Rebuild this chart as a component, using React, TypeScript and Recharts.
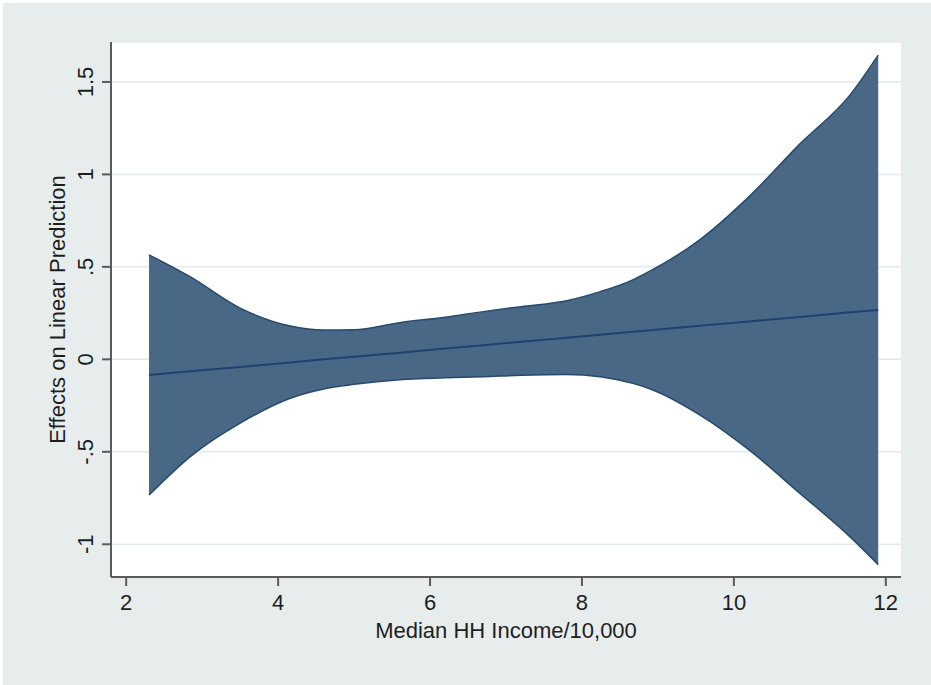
import { Area, CartesianGrid, ComposedChart, Label, Line, XAxis, YAxis } from 'recharts'

// income / 10,000 at which the margins were read
const incomes = [2.3, 2.84, 3.5, 4.16, 4.6, 5.0, 5.6, 6.2, 6.7, 7.2, 7.8, 8.24, 8.67, 8.9, 9.55, 10.2, 10.87, 11.53, 11.9]
const upperCI = [0.565, 0.447, 0.277, 0.18, 0.158, 0.16, 0.198, 0.228, 0.258, 0.285, 0.317, 0.366, 0.43, 0.478, 0.646, 0.88, 1.165, 1.43, 1.645]
const lowerCI = [-0.734, -0.527, -0.345, -0.21, -0.16, -0.135, -0.11, -0.1, -0.094, -0.086, -0.082, -0.094, -0.13, -0.16, -0.3, -0.49, -0.725, -0.96, -1.11]
const effect = [-0.085, -0.065, -0.041, -0.017, 0.0, 0.014, 0.036, 0.058, 0.076, 0.095, 0.117, 0.133, 0.149, 0.157, 0.181, 0.205, 0.229, 0.254, 0.267]

const xTicks = [2, 4, 6, 8, 10, 12]
const yTicks = [-1, -0.5, 0, 0.5, 1, 1.5]

const FONT = '"Liberation Sans", Arial, Helvetica, sans-serif'
const FS = 22
const AXIS = '#5a5a5a'
const INK = '#1e1e1e'

const data = incomes.map((x, i) => ({
  x,
  band: [lowerCI[i], upperCI[i]],
  fit: effect[i],
}))

// Stata drops the leading zero: .5, -.5
function stataNum(v: number) {
  return String(v).replace(/^(-?)0\./, '$1.')
}

function YTick({ x, y, payload }: { x?: number; y?: number; payload?: { value: number } }) {
  if (x == null || y == null || !payload) return null
  return (
    <text
      x={x}
      y={y}
      transform={`rotate(-90 ${x} ${y})`}
      textAnchor="middle"
      fontSize={FS}
      fontFamily={FONT}
      fill={INK}
    >
      {stataNum(payload.value)}
    </text>
  )
}

function YTitle({ viewBox }: { viewBox?: { x: number; y: number; width: number; height: number } }) {
  if (!viewBox) return null
  const cx = viewBox.x + 14
  const cy = viewBox.y + viewBox.height / 2
  return (
    <text
      x={cx}
      y={cy}
      transform={`rotate(-90 ${cx} ${cy})`}
      textAnchor="middle"
      fontSize={FS}
      fontFamily={FONT}
      fill={INK}
    >
      Effects on Linear Prediction
    </text>
  )
}

export default function App() {
  return (
    <div style={{ position: 'absolute', left: 0, top: 0, width: 931, height: 685, background: '#ffffff' }}>
      <div style={{ position: 'absolute', left: 3, top: 3, width: 928, height: 682, background: '#e7eded' }} />
      <div style={{ position: 'absolute', left: 0, top: 0 }}>
        <ComposedChart width={931} height={685} data={data} margin={{ top: 42, right: 30, bottom: 0, left: 51 }}>
          <CartesianGrid vertical={false} stroke="#e2eaed" strokeWidth={1.5} fill="#ffffff" fillOpacity={1} />
          <XAxis
            dataKey="x"
            type="number"
            domain={[1.8, 12.2]}
            ticks={xTicks}
            allowDataOverflow
            height={108}
            tickSize={9}
            tickMargin={8}
            stroke={AXIS}
            strokeWidth={2}
            tick={{ fontSize: FS, fontFamily: FONT, fill: INK }}
          >
            <Label
              value="Median HH Income/10,000"
              position="insideBottom"
              offset={47}
              style={{ fontSize: FS, fontFamily: FONT, fill: INK }}
            />
          </XAxis>
          <YAxis
            type="number"
            domain={[-1.177, 1.716]}
            ticks={yTicks}
            allowDataOverflow
            width={60}
            tickSize={9}
            tickMargin={9}
            stroke={AXIS}
            strokeWidth={2}
            tick={<YTick />}
          >
            <Label content={<YTitle />} />
          </YAxis>
          <Area
            dataKey="band"
            type="monotone"
            fill="#486886"
            fillOpacity={1}
            stroke="#26496d"
            strokeWidth={1.5}
            isAnimationActive={false}
          />
          <Line
            dataKey="fit"
            type="linear"
            stroke="#1d4370"
            strokeWidth={2}
            dot={false}
            isAnimationActive={false}
          />
        </ComposedChart>
      </div>
    </div>
  )
}
